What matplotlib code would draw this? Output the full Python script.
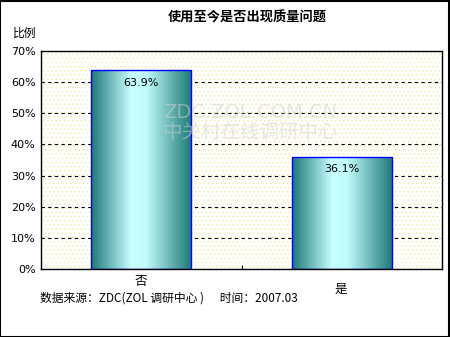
import numpy as np
import matplotlib.pyplot as plt
from matplotlib.colors import LinearSegmentedColormap

plt.rcParams['font.family'] = ['Noto Sans CJK SC', 'DejaVu Sans']
plt.rcParams['hatch.linewidth'] = 0.5

categories = ['否', '是']
values = [63.9, 36.1]
value_labels = ['63.9%', '36.1%']
yticks = [0, 10, 20, 30, 40, 50, 60, 70]

fig = plt.figure(figsize=(4.5, 3.37), dpi=100)
ax = fig.add_axes([41/450, 68/337, 401/450, 218/337])

# plot background: white with faint yellow dots
ax.set_facecolor('white')
ax.add_patch(plt.Rectangle((0, 0), 1, 1, transform=ax.transAxes, facecolor='none',
                           edgecolor='#f3eb9a', hatch='....', linewidth=0, zorder=0))

cmap = LinearSegmentedColormap.from_list('bar', [(0, '#1c7878'), (0.4, '#c8ffff'),
                                                 (0.55, '#c0fafa'), (1, '#1c7878')])
grad = np.linspace(0, 1, 256).reshape(1, -1)

x = np.arange(len(categories))
width = 0.5
bars = ax.bar(x, values, width=width, color='none', edgecolor='#0000ff', linewidth=1, zorder=3)
for b in bars:
    x0, y0 = b.get_x(), b.get_y()
    im = ax.imshow(grad, cmap=cmap, aspect='auto', extent=[x0, x0 + b.get_width(), y0, y0 + b.get_height()],
                   zorder=2)
    im.set_clip_path(b)

for xi, v, lab in zip(x, values, value_labels):
    ax.text(xi, v - 2.5, lab, ha='center', va='top', fontsize=8, family='DejaVu Sans', zorder=4)

ax.set_xlim(-0.5, 1.5)
ax.set_ylim(0, 70)
ax.set_yticks(yticks)
ax.set_yticklabels([f'{t}%' for t in yticks], fontsize=8, family='DejaVu Sans')
ax.yaxis.grid(True, linestyle=(0, (3, 3)), color='black', linewidth=0.8, zorder=1)
ax.set_axisbelow(True)
ax.tick_params(axis='y', length=0, pad=4)
ax.set_xticks([0.5])
ax.set_xticklabels([''])
ax.tick_params(axis='x', direction='in', length=3)
for s in ax.spines.values():
    s.set_linewidth(1)

# category labels (second one sits lower)
fig.text(141/450, 1 - 282/337, categories[0], ha='center', va='center', fontsize=9)
fig.text(341/450, 1 - 289/337, categories[1], ha='center', va='center', fontsize=9)

fig.text(247/450, 1 - 18/337, '使用至今是否出现质量问题', ha='center', va='center',
         fontsize=9.5, fontweight='bold')
fig.text(13/450, 1 - 33/337, '比例', ha='left', va='center', fontsize=8.5)
fig.text(40/450, 1 - 298/337, '数据来源：ZDC(ZOL 调研中心 )      时间：2007.03', ha='left', va='center',
         fontsize=8.5)

# watermark
fig.text(250/450, 1 - 113/337, 'ZDC.ZOL.COM.CN', ha='center', va='center', fontsize=14,
         color='#d0d0d0', alpha=0.5, family='DejaVu Sans', zorder=5)
fig.text(250/450, 1 - 132/337, '中关村在线调研中心', ha='center', va='center', fontsize=14,
         color='#d0d0d0', alpha=0.5, zorder=5)

fig.patches.append(plt.Rectangle((0.001, 0.001), 0.997, 0.997, transform=fig.transFigure,
                                 fill=False, edgecolor='black', linewidth=1.5))

fig.savefig('out.png', dpi=100)
